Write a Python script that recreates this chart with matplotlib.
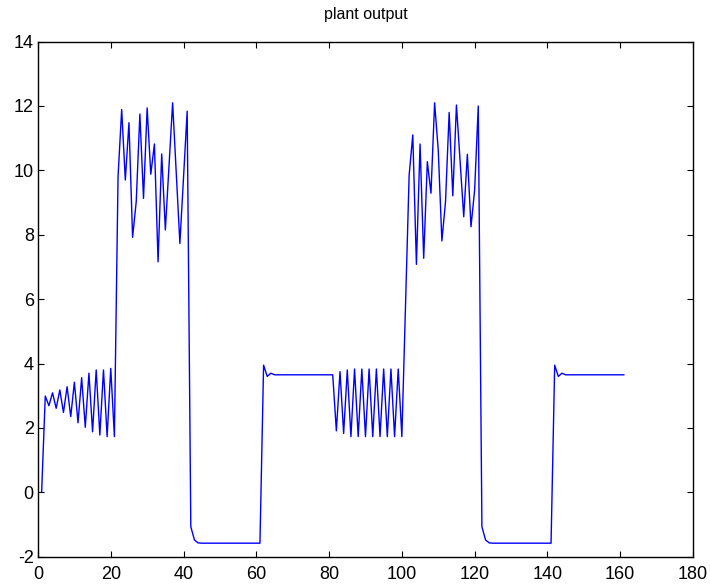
import numpy as np
import matplotlib
matplotlib.use('Agg')
import matplotlib.pyplot as plt

plt.rcParams['font.family'] = ['Liberation Sans', 'DejaVu Sans']
plt.rcParams['axes.unicode_minus'] = False

# plant response, one sample per step (k = 1 .. 161)
start = [0.0]
ripple_1 = [2.99, 2.69, 3.09, 2.61, 3.18, 2.48, 3.28, 2.35, 3.42, 2.16,
            3.56, 2.02, 3.70, 1.88, 3.80, 1.78, 3.80, 1.73, 3.85, 1.73]
burst_1 = [9.80, 11.89, 9.70, 11.48, 7.92, 9.03, 11.75, 9.13, 11.94, 9.88,
           10.82, 7.16, 10.51, 8.15, 10.10, 12.10, 9.90, 7.73, 9.80, 11.84]
low_1 = [-1.07, -1.48, -1.57] + [-1.58] * 17
settle_1 = [3.95, 3.60, 3.70] + [3.65] * 17
ripple_2 = [1.91, 3.75, 1.83, 3.80, 1.73, 3.83, 1.73, 3.83, 1.73, 3.83,
            1.73, 3.83, 1.73, 3.83, 1.73, 3.83, 1.73, 3.83, 1.73, 5.80]
burst_2 = [9.85, 11.10, 7.08, 10.82, 7.27, 10.27, 9.29, 12.10, 10.63, 7.81,
           9.03, 11.80, 9.21, 12.03, 10.30, 8.56, 10.50, 8.25, 9.39, 12.00]
low_2 = [-1.07, -1.48, -1.57] + [-1.58] * 17
settle_2 = [3.95, 3.60, 3.70] + [3.65] * 17

y = np.array(start + ripple_1 + burst_1 + low_1 + settle_1
             + ripple_2 + burst_2 + low_2 + settle_2)
k = np.arange(1, len(y) + 1)

x_ticks = list(range(0, 181, 20))
y_ticks = list(range(-2, 15, 2))

fig = plt.figure(figsize=(7.10, 5.86), dpi=100)
ax = fig.add_axes([0.0535, 0.050, 0.9225, 0.879])

ax.plot(k, y, color='#0000ff', linewidth=1.0)

ax.set_xlim(0, 180)
ax.set_ylim(-2, 14)
ax.set_xticks(x_ticks)
ax.set_yticks(y_ticks)
ax.tick_params(direction='in', length=4, width=0.8, labelsize=13,
               top=True, right=True, pad=3)
ax.tick_params(axis='x', pad=7)
for spine in ax.spines.values():
    spine.set_linewidth(1.0)
    spine.set_color('black')

ax.set_title('plant output', fontsize=11.5, pad=16)

fig.savefig('out.png', dpi=100)
